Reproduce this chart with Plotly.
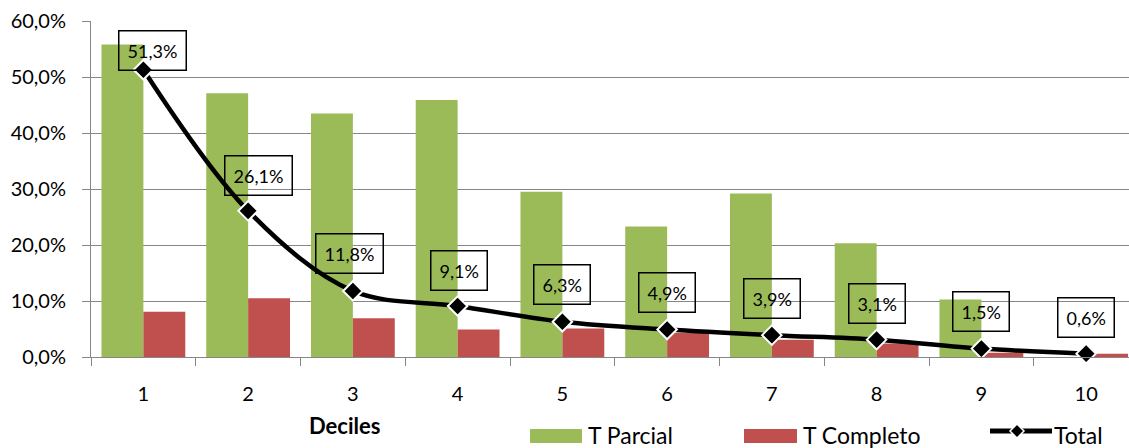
import plotly.graph_objects as go

# Deciles and shares (fractions)
deciles = ["1", "2", "3", "4", "5", "6", "7", "8", "9", "10"]
t_parcial = [0.558, 0.471, 0.435, 0.459, 0.295, 0.233, 0.292, 0.203, 0.1025, 0.0]
t_completo = [0.081, 0.105, 0.069, 0.049, 0.051, 0.043, 0.031, 0.024, 0.0075, 0.0057]
total = [0.513, 0.261, 0.118, 0.091, 0.063, 0.049, 0.039, 0.031, 0.015, 0.006]
y_ticks = [0.0, 0.1, 0.2, 0.3, 0.4, 0.5, 0.6]

# label nudges (pixels) for the boxed value labels on the Total line
label_dx = [9, 10, -3, 1, 0, 0, 0, 0, 0, 0]
label_dy = [19, 35, 37, 36, 37, 37, 37, 36, 37, 36]

GREEN = "#9BBB59"
RED = "#C0504D"
GRID = "#868686"
FONT = "Lato"

W, H = 1129, 448
ML, MR, MT, MB = 91, 0, 21, 91
PW = W - ML - MR
PH = H - MT - MB


def fx(px):
    return (px - ML) / PW


def fy(py):
    return (H - MB - py) / PH


fig = go.Figure()
fig.add_trace(go.Bar(x=deciles, y=t_parcial, name="T Parcial",
                     marker=dict(color=GREEN, line=dict(width=0))))
fig.add_trace(go.Bar(x=deciles, y=t_completo, name="T Completo",
                     marker=dict(color=RED, line=dict(width=0))))
fig.add_trace(go.Scatter(x=deciles, y=total, name="Total", mode="lines+markers",
                         line=dict(color="black", width=4.5, shape="spline", smoothing=1.0),
                         marker=dict(symbol="diamond", size=15, color="black",
                                     line=dict(color="white", width=2)),
                         cliponaxis=False))

annotations = []
for i, (v, dx, dy) in enumerate(zip(total, label_dx, label_dy)):
    # category axis: annotation x is the category index
    annotations.append(dict(
        x=i, y=v, xref="x", yref="y", showarrow=False,
        text=f"{v * 100:.1f}".replace(".", ",") + "%",
        xshift=dx, yshift=dy,
        font=dict(family=FONT, size=18, color="black"),
        bordercolor="black", borderwidth=1.5, borderpad=8,
        bgcolor="rgba(0,0,0,0)",
    ))

# axis title
annotations.append(dict(
    x=fx(344), y=fy(425), xref="paper", yref="paper", showarrow=False,
    text="<b>Deciles</b>", xanchor="center", yanchor="middle",
    font=dict(family=FONT, size=22, color="black"),
))

# legend drawn as shapes + text
shapes = []
leg_y0, leg_y1 = 429, 443
shapes.append(dict(type="rect", xref="paper", yref="paper",
                   x0=fx(530), x1=fx(582), y0=fy(leg_y1), y1=fy(leg_y0),
                   fillcolor=GREEN, line=dict(width=0)))
shapes.append(dict(type="rect", xref="paper", yref="paper",
                   x0=fx(744), x1=fx(797), y0=fy(leg_y1), y1=fy(leg_y0),
                   fillcolor=RED, line=dict(width=0)))
shapes.append(dict(type="line", xref="paper", yref="paper",
                   x0=fx(990), x1=fx(1052), y0=fy(431), y1=fy(431),
                   line=dict(color="black", width=5)))
cx, cy, r = 1017, 431, 7
shapes.append(dict(type="path", xref="paper", yref="paper",
                   path=(f"M {fx(cx - r)} {fy(cy)} L {fx(cx)} {fy(cy - r)} "
                         f"L {fx(cx + r)} {fy(cy)} L {fx(cx)} {fy(cy + r)} Z"),
                   fillcolor="black", line=dict(color="white", width=1.5)))

for label, px in [("T Parcial", 586), ("T Completo", 801), ("Total", 1052)]:
    annotations.append(dict(
        x=fx(px), y=fy(435), xref="paper", yref="paper", showarrow=False,
        text=label, xanchor="left", yanchor="middle",
        font=dict(family=FONT, size=23, color="black"),
    ))

fig.update_layout(
    width=W, height=H,
    margin=dict(l=ML, r=MR, t=MT, b=MB, pad=0),
    paper_bgcolor="white", plot_bgcolor="white",
    separators=",.",
    barmode="group", bargap=0.2, bargroupgap=0.0,
    showlegend=False,
    annotations=annotations,
    shapes=shapes,
    font=dict(family=FONT, size=20, color="black"),
    xaxis=dict(
        type="category", categoryorder="array", categoryarray=deciles,
        range=[-0.5, -0.5 + PW / 104.75],
        tickson="boundaries", ticks="outside", ticklen=8, tickcolor=GRID, tickwidth=1,
        showline=True, linecolor=GRID, linewidth=1, showgrid=False,
        tickfont=dict(family=FONT, size=20, color="black"),
        ticklabelstandoff=19,
    ),
    yaxis=dict(
        range=[0, 0.6], tickvals=y_ticks, tickformat=".1%",
        ticks="outside", ticklen=8, tickcolor=GRID, tickwidth=1,
        showline=True, linecolor=GRID, linewidth=1,
        showgrid=True, gridcolor=GRID, gridwidth=1, zeroline=False,
        tickfont=dict(family=FONT, size=20, color="black"),
        ticklabelstandoff=12,
    ),
)

fig.write_html("out.html")
